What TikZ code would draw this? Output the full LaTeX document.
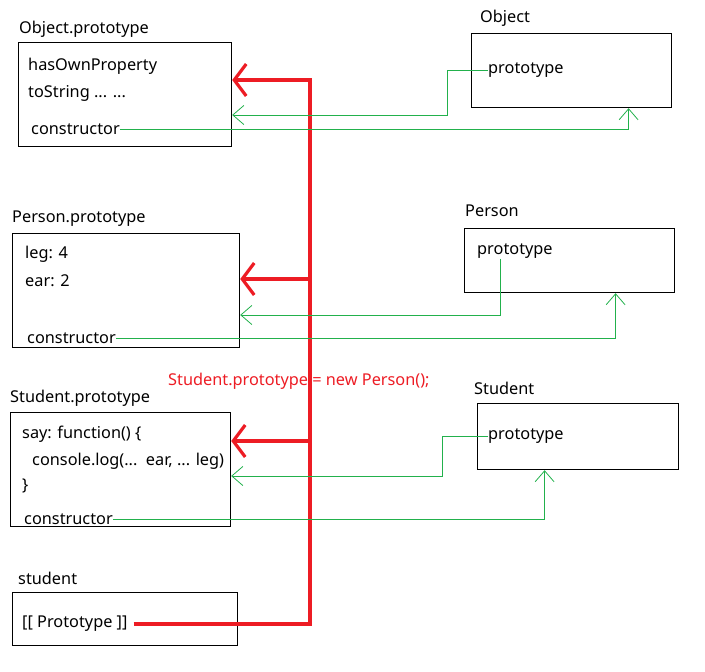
\documentclass[tikz,border=0pt]{standalone}
\usepackage{fontspec}
\setmainfont{Noto Sans}
\usetikzlibrary{arrows.meta}
\definecolor{lineRed}{HTML}{ED1C24}
\definecolor{lineGreen}{HTML}{22B14C}
\begin{document}
\begin{tikzpicture}[x=1pt,y=-1pt,font=\fontsize{16.3}{19}\selectfont,
		box/.style={draw,line width=1.2pt,anchor=north west,inner sep=0pt},
		txt/.style={anchor=west,inner sep=0pt},
		redline/.style={lineRed,line width=3.2pt,-{Straight Barb[length=12pt,width=32pt,line width=3.2pt]}},
		grnline/.style={lineGreen,line width=0.9pt,-{Straight Barb[length=11pt,width=19pt,line width=0.8pt]}}]
	\useasboundingbox (0,0) rectangle (705,672);
	% left column: prototypes
	\node[box,minimum width=213pt,minimum height=104pt] (objp) at (18,42) {};
	\node[txt] (objpl) at (19,29) {Object.prototype};
	\node[txt] (objp1) at (28,66) {hasOwnProperty};
	\node[txt] (objp2) at (28,93) {toString ... ...};
	\node[txt] (objpc) at (31,129) {constructor};
	\node[box,minimum width=227pt,minimum height=114pt] (perp) at (12,233) {};
	\node[txt] (perpl) at (12,219) {Person.prototype};
	\node[txt] (perp1) at (25,254) {leg: 4};
	\node[txt] (perp2) at (25,281) {ear: 2};
	\node[txt] (perpc) at (27,338) {constructor};
	\node[box,minimum width=220pt,minimum height=114pt] (stup) at (10,412) {};
	\node[txt] (stupl) at (10,398) {Student.prototype};
	\node[txt] (stup1) at (22,434) {say: function() \{};
	\node[txt] (stup2) at (32,461) {console.log(...\ \ ear, ... leg)};
	\node[txt] (stup3) at (22,486) {\}};
	\node[txt] (stupc) at (24,519) {constructor};
	\node[box,minimum width=225pt,minimum height=53pt] (inst) at (12,592) {};
	\node[txt] (instl) at (18,578) {student};
	\node[txt] (instp) at (22,624) {[[ Prototype ]]};
	% right column: constructors
	\node[box,minimum width=200pt,minimum height=74pt] (obj) at (471,33) {};
	\node[txt] (objl) at (480,18) {Object};
	\node[txt] (objt) at (488,70) {prototype};
	\node[box,minimum width=210pt,minimum height=64pt] (per) at (464,228) {};
	\node[txt] (perl) at (465,211) {Person};
	\node[txt] (pert) at (477,251) {prototype};
	\node[box,minimum width=201pt,minimum height=66pt] (stu) at (477,403) {};
	\node[txt] (stul) at (474,388) {Student};
	\node[txt] (stut) at (488,436) {prototype};
	\node[txt,text=lineRed] (note) at (168,381) {Student.prototype = new Person();};
	% red chain
	\coordinate (bend) at (310,80);
	\coordinate (jp) at (310,279);
	\coordinate (js) at (310,441);
	\draw[redline] ([xshift=6pt]instp.east) -| (bend) -- (bend -| objp.east);
	\draw[redline] (jp) -- (jp -| perp.east);
	\draw[redline] (js) -- (js -| stup.east);
	% green links
	\coordinate (ob) at (447,115);
	\coordinate (pb) at (500,315);
	\coordinate (sb) at (442,476);
	\draw[grnline] (objt.west) -| (ob) -- (ob -| objp.east);
	\draw[grnline] (objpc.east) -| ([xshift=57pt]obj.south);
	\draw[grnline] (pb |- pert.south) -- (pb) -- (pb -| perp.east);
	\draw[grnline] (perpc.east) -| ([xshift=46pt]per.south);
	\draw[grnline] (stut.west) -| (sb) -- (sb -| stup.east);
	\draw[grnline] (stupc.east) -| ([xshift=-33.5pt]stu.south);
\end{tikzpicture}
\end{document}
